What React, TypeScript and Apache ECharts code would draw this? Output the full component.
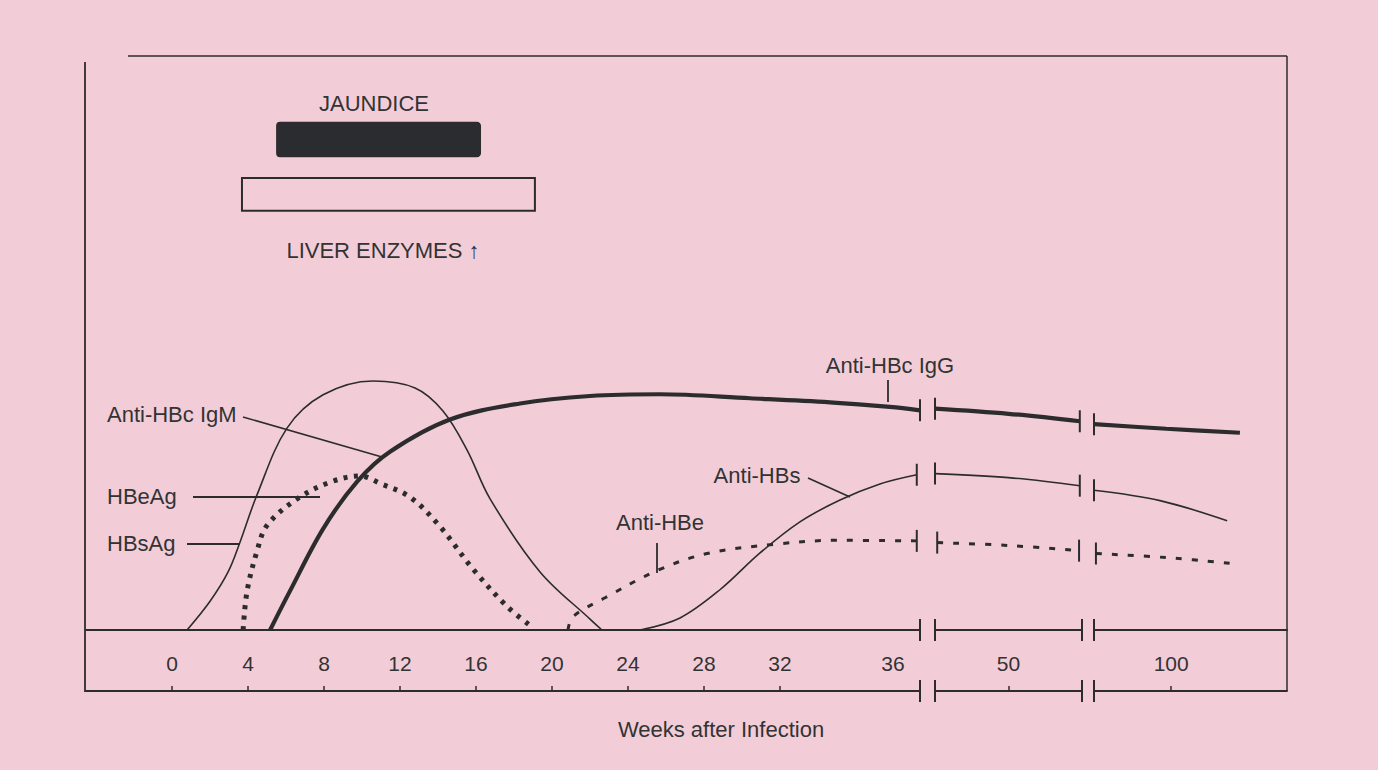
import { useEffect, useRef } from "react";
import * as echarts from "echarts";

// ---- tick labels (weeks after infection) ----
const mainTicks = [0, 4, 8, 12, 16, 20, 24, 28, 32];
const mainLabels = [0, 4, 8, 12, 16, 20, 24, 28, 32, 36];
const midLabels = [50];
const lateLabels = [100];

// ---- series values: [week, relative level] ----
const hbsAg = [[0.79, 0], [2.0, 5.0], [2.95, 10.1], [3.58, 15.3], [4.47, 23.5], [6.05, 35.1], [7.95, 40.9], [10.58, 43.3], [12.79, 42.1], [14.26, 38.1], [15.53, 31.3], [16.74, 22.8], [19.37, 10.1], [22.0, 1.9], [22.63, 0]];
const hbeAg = [[3.74, 0], [3.95, 6.8], [4.47, 13.7], [5.0, 18.2], [6.58, 22.8], [8.32, 25.7], [9.89, 26.8], [10.95, 25.5], [12.53, 23.1], [14.1, 18.0], [15.84, 10.6], [17.63, 4.1], [18.84, 0.8]];
const igG1 = [[5.16, 0], [6.21, 6.8], [7.95, 17.6], [9.74, 25.8], [11.47, 31.0], [14.63, 36.6], [18.32, 39.4], [22.0, 40.7], [25.68, 41.0], [30.42, 40.3], [34.63, 39.6], [37.79, 38.8], [39.37, 38.2]];
const igG2 = [[40, 38.5], [50, 37.6], [59.7, 36.3]];
const igG3 = [[80, 35.8], [98.7, 35.0], [117.8, 34.3]];
const antiHBs1 = [[24.63, 0], [26.74, 2.1], [28.84, 7.0], [30.95, 13.4], [33.05, 18.8], [35.16, 22.6], [37.26, 25.4], [39.2, 27.0]];
const antiHBs2 = [[40, 27.2], [50, 26.5], [59.7, 25.1]];
const antiHBs3 = [[80, 24.3], [97.1, 22.5], [114.5, 19.0]];
const antiHBe1 = [[20.84, 0], [21.1, 2.3], [22.79, 5.6], [25.58, 10.4], [28.16, 13.3], [31.68, 14.9], [35.0, 15.6], [39.2, 15.5]];
const antiHBe2 = [[40.3, 15.2], [50, 14.7], [59.6, 13.8]];
const antiHBe3 = [[80.5, 13.3], [98.65, 12.6], [116.5, 11.5]];

// ---- clinical episodes: start week, end week, top level, bottom level ----
const episodeNames = ["JAUNDICE", "LIVER ENZYMES"];
const episodeStart = [5.53, 3.68];
const episodeEnd = [16.21, 19.1];
const episodeTop = [88.2, 78.6];
const episodeBottom = [82.4, 72.9];
const episodeFilled = [1, 0];

const INK = "#2c2c2e";
const PINK = "#F2CDD8";
const FONT = "'Liberation Sans', Arial, sans-serif";

function withBreaks(data: number[][], first: boolean, last: boolean) {
  return data.map((d, i) => {
    const isEnd = (first && i === 0) || (last && i === data.length - 1);
    return isEnd
      ? { value: d, symbol: "rect", symbolSize: [2, 22], itemStyle: { color: INK } }
      : { value: d };
  });
}

export default function App() {
  const ref = useRef<HTMLDivElement>(null);
  useEffect(() => {
    if (!ref.current) return;
    const chart = echarts.init(ref.current, null, { renderer: "svg" });

    const mkAxes = (gi: number, min: number, max: number, ticks: number[], labels: number[], sym: string[]) => [
      {
        gridIndex: gi, type: "value", min, max, position: "bottom",
        axisLine: { show: true, lineStyle: { color: INK, width: 1.8 }, symbol: sym, symbolSize: [22, 2] },
        axisTick: { show: false }, axisLabel: { show: false }, splitLine: { show: false },
      },
      {
        gridIndex: gi, type: "value", min, max, position: "bottom", offset: 61,
        axisLine: { show: true, lineStyle: { color: INK, width: 1.8 }, symbol: sym, symbolSize: [22, 2] },
        axisTick: { show: true, inside: true, length: 5, customValues: ticks, lineStyle: { color: INK, width: 1.5 } },
        axisLabel: {
          show: true, inside: true, margin: 17, customValues: labels,
          color: "#333", fontSize: 21, fontFamily: FONT,
          formatter: (v: number) => (v === 36 ? "{s|36}" : String(v)),
          rich: { s: { padding: [0, 0, 0, 74], fontSize: 21, fontFamily: FONT, color: "#333" } },
        },
        splitLine: { show: false },
      },
    ];

    const lineBase = (xi: number, yi: number) => ({
      type: "line", xAxisIndex: xi, yAxisIndex: yi, symbol: "none", showSymbol: true,
      smooth: 0.35, silent: true, z: 3,
    });

    const thin = { color: INK, width: 1.6 };
    const thick = { color: INK, width: 4.2 };
    const xDash = { color: INK, width: 3, type: [6, 10] };
    const dot = { color: INK, width: 5, type: [4, 6.5] };

    const text = (x: number, y: number, s: string, align = "center", size = 22) => ({
      type: "text", x, y,
      style: { text: s, fontSize: size, fontFamily: FONT, fill: "#333", align, verticalAlign: "middle" },
    });
    const seg = (x1: number, y1: number, x2: number, y2: number, w = 1.6) => ({
      type: "line", shape: { x1, y1, x2, y2 }, style: { stroke: INK, lineWidth: w },
    });

    chart.setOption({
      animation: false,
      backgroundColor: PINK,
      textStyle: { fontFamily: FONT },
      grid: [
        { left: 86, top: 55, width: 834, height: 575 },
        { left: 935, top: 55, width: 147, height: 575 },
        { left: 1094, top: 55, width: 193, height: 575 },
      ],
      xAxis: [
        ...mkAxes(0, -4.53, 39.37, mainTicks, mainLabels, ["none", "rect"]),
        ...mkAxes(1, 40, 60, midLabels, midLabels, ["rect", "rect"]),
        ...mkAxes(2, 80, 130, lateLabels, lateLabels, ["rect", "none"]),
      ],
      yAxis: [0, 1, 2].map((gi) => ({
        gridIndex: gi, type: "value", min: 0, max: 100, show: false, splitLine: { show: false },
      })),
      series: [
        {
          type: "custom", xAxisIndex: 0, yAxisIndex: 0, silent: true,
          data: episodeNames.map((n, i) => [episodeStart[i], episodeEnd[i], episodeTop[i], episodeBottom[i], episodeFilled[i]]),
          renderItem: (params: any, api: any) => {
            const p1 = api.coord([api.value(0), api.value(2)]);
            const p2 = api.coord([api.value(1), api.value(3)]);
            const filled = api.value(4) === 1;
            return {
              type: "rect",
              shape: { x: p1[0], y: p1[1], width: p2[0] - p1[0], height: p2[1] - p1[1], r: filled ? 3 : 0 },
              style: { fill: filled ? "#2b2c30" : "none", stroke: INK, lineWidth: 2 },
            };
          },
        },
        { ...lineBase(0, 0), name: "HBsAg", data: hbsAg, lineStyle: thin },
        { ...lineBase(0, 0), name: "HBeAg", data: hbeAg, lineStyle: dot },
        { ...lineBase(0, 0), name: "Anti-HBc IgG", data: withBreaks(igG1, false, true), lineStyle: thick, z: 4 },
        { ...lineBase(2, 1), name: "Anti-HBc IgG", data: withBreaks(igG2, true, true), lineStyle: thick, z: 4 },
        { ...lineBase(4, 2), name: "Anti-HBc IgG", data: withBreaks(igG3, true, false), lineStyle: thick, z: 4 },
        { ...lineBase(0, 0), name: "Anti-HBs", data: withBreaks(antiHBs1, false, true), lineStyle: thin },
        { ...lineBase(2, 1), name: "Anti-HBs", data: withBreaks(antiHBs2, true, true), lineStyle: thin },
        { ...lineBase(4, 2), name: "Anti-HBs", data: withBreaks(antiHBs3, true, false), lineStyle: thin },
        { ...lineBase(0, 0), name: "Anti-HBe", data: withBreaks(antiHBe1, false, true), lineStyle: xDash },
        { ...lineBase(2, 1), name: "Anti-HBe", data: withBreaks(antiHBe2, true, true), lineStyle: xDash },
        { ...lineBase(4, 2), name: "Anti-HBe", data: withBreaks(antiHBe3, true, false), lineStyle: xDash },
      ],
      graphic: [
        seg(128, 56, 1287, 56, 1.5),
        seg(1287, 56, 1287, 691, 1.5),
        seg(85, 62, 85, 692, 1.8),
        text(374, 103, "JAUNDICE"),
        text(383, 250, "LIVER ENZYMES ↑"),
        text(107, 414, "Anti-HBc IgM", "left"),
        text(107, 496, "HBeAg", "left"),
        text(107, 543, "HBsAg", "left"),
        text(890, 365, "Anti-HBc IgG"),
        text(757, 475, "Anti-HBs"),
        text(660, 522, "Anti-HBe"),
        text(721, 729, "Weeks after Infection"),
        seg(243, 417, 382, 457),
        seg(193, 497, 320, 497, 2),
        seg(187, 544, 240, 544, 2),
        seg(888, 380, 888, 402, 1.8),
        seg(808, 478, 850, 497),
        seg(657, 543, 657, 573, 1.8),
      ],
    });
    return () => chart.dispose();
  }, []);
  return <div ref={ref} style={{ position: "fixed", left: 0, top: 0, width: 1378, height: 770 }} />;
}
